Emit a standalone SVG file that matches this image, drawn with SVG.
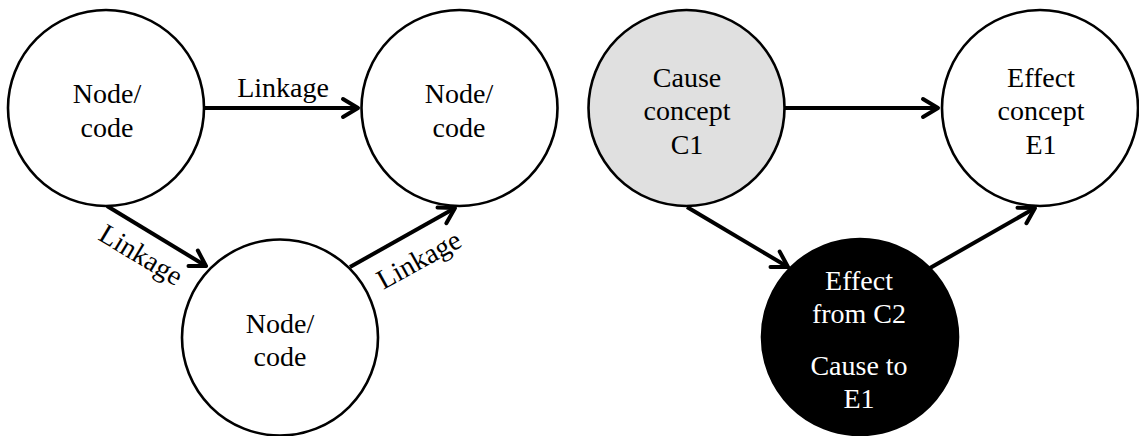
<svg xmlns="http://www.w3.org/2000/svg" width="1139" height="436" viewBox="0 0 1139 436">
<style>
.node{stroke:#000;stroke-width:2.6;fill:#fff}
.gray{fill:#e0e0e0}
.dark{fill:#000}
.lbl{font-family:"Liberation Serif","Times New Roman",serif;font-size:28px;fill:#000;text-anchor:middle}
.inv{fill:#fff}
.edge{stroke:#000;stroke-width:4;fill:none;marker-end:url(#arr)}
</style>
<defs>
<marker id="arr" markerUnits="userSpaceOnUse" orient="auto" refX="0" refY="0" markerWidth="40" markerHeight="40" overflow="visible" viewBox="-20 -20 40 40">
<path d="M-15,-9 L0,0 L-15,9" fill="none" stroke="#000" stroke-width="4" stroke-linejoin="round" stroke-linecap="round"/>
</marker>
</defs>
<rect width="1139" height="436" fill="#fff"/>
<g id="connectors">
<line class="edge" x1="204" y1="108" x2="358" y2="108"/>
<line class="edge" x1="107" y1="206" x2="206" y2="266"/>
<line class="edge" x1="350" y1="267" x2="455" y2="208"/>
<line class="edge" x1="785" y1="108" x2="938" y2="108"/>
<line class="edge" x1="687" y1="207" x2="788" y2="267"/>
<line class="edge" x1="930" y1="268" x2="1035" y2="208"/>
<text class="lbl" x="283" y="97">Linkage</text>
<text class="lbl" transform="translate(141,255) rotate(31)" x="0" y="9">Linkage</text>
<text class="lbl" transform="translate(419,260) rotate(-29)" x="0" y="9">Linkage</text>
</g>
<g id="node1">
<circle class="node" cx="106" cy="108" r="98"/>
<text class="lbl" x="107" y="103">Node/</text>
<text class="lbl" x="107" y="137">code</text>
</g>
<g id="node2">
<circle class="node" cx="459.5" cy="108" r="98"/>
<text class="lbl" x="459" y="103">Node/</text>
<text class="lbl" x="459" y="137">code</text>
</g>
<g id="node3">
<circle class="node" cx="280" cy="337.5" r="98"/>
<text class="lbl" x="280" y="333">Node/</text>
<text class="lbl" x="280" y="366">code</text>
</g>
<g id="cause">
<circle class="node gray" cx="686.5" cy="108" r="98"/>
<text class="lbl" x="687" y="87">Cause</text>
<text class="lbl" x="687" y="120">concept</text>
<text class="lbl" x="687" y="154">C1</text>
</g>
<g id="effect">
<circle class="node" cx="1040" cy="108" r="98"/>
<text class="lbl" x="1041" y="87">Effect</text>
<text class="lbl" x="1041" y="120">concept</text>
<text class="lbl" x="1041" y="154">E1</text>
</g>
<g id="mediator">
<circle class="node dark" cx="860" cy="337" r="98"/>
<text class="lbl inv" x="859" y="290">Effect</text>
<text class="lbl inv" x="859" y="323">from C2</text>
<text class="lbl inv" x="859" y="375">Cause to</text>
<text class="lbl inv" x="859" y="408">E1</text>
</g>
</svg>
